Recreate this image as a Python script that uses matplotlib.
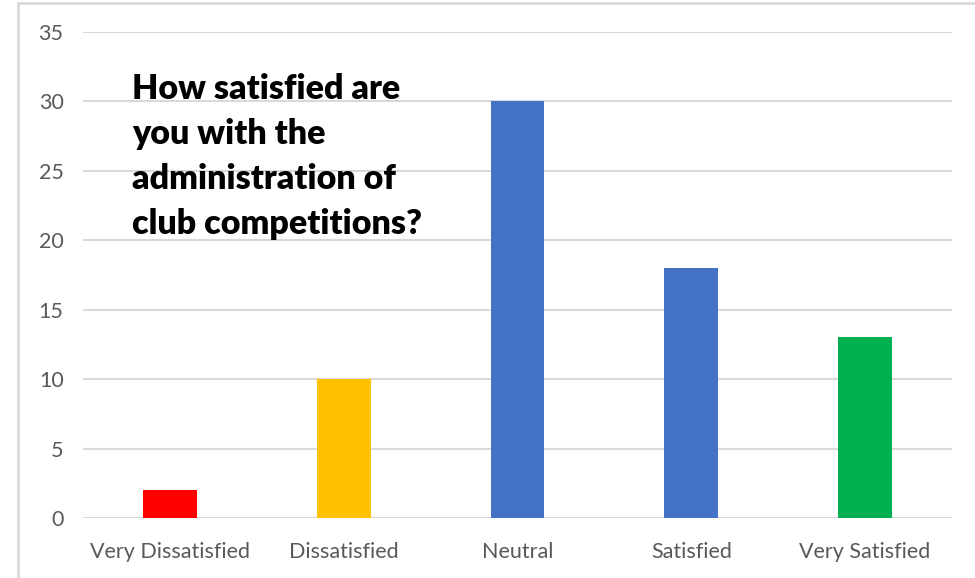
import matplotlib
matplotlib.use("Agg")
import matplotlib.pyplot as plt
from matplotlib.patches import Rectangle

categories = ["Very Dissatisfied", "Dissatisfied", "Neutral", "Satisfied", "Very Satisfied"]
values = [2, 10, 30, 18, 13]
colors = ["#FF0000", "#FFC000", "#4472C4", "#4472C4", "#00B050"]
yticks = [0, 5, 10, 15, 20, 25, 30, 35]
title = "How satisfied are\nyou with the\nadministration of\nclub competitions?"

W, H = 975, 578
fig = plt.figure(figsize=(W/100, H/100), dpi=100)
plt.rcParams['font.family'] = ['Lato', 'DejaVu Sans']

# outer chart frame (cropped at right and bottom)
fig.patches.append(Rectangle((18/W, -0.1), 1.2, (H - 3)/H + 0.1, transform=fig.transFigure,
                             fill=False, edgecolor="#D9D9D9", linewidth=2))

ax = fig.add_axes([83/W, 1 - 518/H, (952 - 83)/W, (518 - 32)/H])
x = list(range(len(categories)))
ax.bar(x, values, width=0.31, color=colors, zorder=3)
ax.set_xlim(-0.5, len(categories) - 0.5)
ax.set_ylim(0, 35)
ax.set_yticks(yticks)
ax.set_xticks(x)
ax.set_xticklabels(categories)
ax.yaxis.grid(True, color="#D9D9D9", linewidth=1.5, zorder=0)
ax.set_axisbelow(True)
for s in ax.spines.values():
    s.set_visible(False)
ax.tick_params(axis='both', length=0, colors="#595959", labelsize=15.5)
ax.tick_params(axis='y', pad=14)
ax.tick_params(axis='x', pad=17)

fig.text(132/W, 1 - 73/H, title, ha="left", va="top", fontsize=24.5, fontweight="heavy",
         color="black", linespacing=1.5)

fig.savefig("out.png", dpi=100)
